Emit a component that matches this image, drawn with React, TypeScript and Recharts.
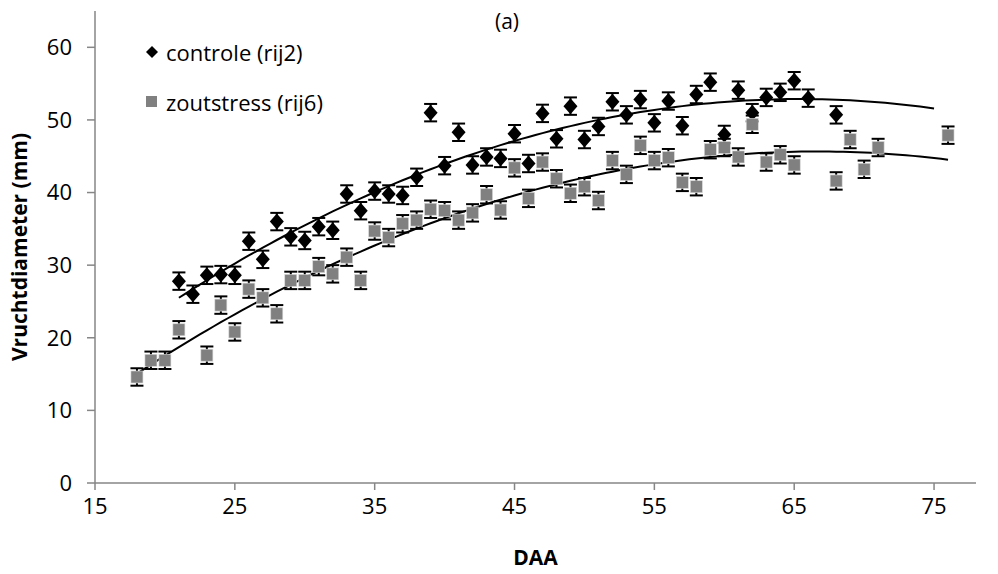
import React from 'react';
import { ComposedChart, Scatter, XAxis, YAxis, ErrorBar } from 'recharts';

// DAA (days after anthesis) and fruit diameter (mm)
const controleDAA = [21, 22, 23, 24, 25, 26, 27, 28, 29, 30, 31, 32, 33, 34, 35, 36, 37, 38, 39, 40, 41, 42, 43, 44, 45, 46, 47, 48, 49, 50, 51, 52, 53, 54, 55, 56, 57, 58, 59, 60, 61, 62, 63, 64, 65, 66, 68];
const controleMM = [27.8, 26, 28.6, 28.7, 28.6, 33.3, 30.8, 36, 33.9, 33.4, 35.3, 34.8, 39.8, 37.5, 40.2, 39.8, 39.6, 42.1, 51, 43.7, 48.3, 43.8, 44.9, 44.7, 48.1, 44, 50.9, 47.4, 51.9, 47.3, 49.1, 52.5, 50.7, 52.8, 49.6, 52.6, 49.2, 53.5, 55.2, 48, 54.1, 51, 53.1, 53.8, 55.4, 53, 50.7];

const zoutDAA = [18, 19, 20, 21, 23, 24, 25, 26, 27, 28, 29, 30, 31, 32, 33, 34, 35, 36, 37, 38, 39, 40, 41, 42, 43, 44, 45, 46, 47, 48, 49, 50, 51, 52, 53, 54, 55, 56, 57, 58, 59, 60, 61, 62, 63, 64, 65, 68, 69, 70, 71, 76];
const zoutMM = [14.6, 16.9, 16.9, 21.1, 17.6, 24.5, 20.8, 26.7, 25.5, 23.3, 27.9, 27.9, 29.8, 28.8, 31.1, 27.9, 34.7, 33.8, 35.7, 36.2, 37.7, 37.5, 36.2, 37.2, 39.7, 37.6, 43.4, 39.2, 44.2, 41.9, 39.9, 40.8, 38.9, 44.4, 42.5, 46.5, 44.4, 44.8, 41.4, 40.8, 45.9, 46.2, 44.9, 49.4, 44.2, 45.2, 43.8, 41.6, 47.3, 43.2, 46.2, 47.9];

const ERR = 1.2;
const xTicks = [15, 25, 35, 45, 55, 65, 75];
const yTicks = [0, 10, 20, 30, 40, 50, 60];

// trendline x-ranges as drawn in the chart
const controleTrendRange = [21, 75];
const zoutTrendRange = [18, 76];

const FONT = '"Open Sans", Lato, sans-serif';

// 2nd order polynomial least squares (like the Excel trendline)
function polyFit(xs: number[], ys: number[]) {
  let s0 = 0, s1 = 0, s2 = 0, s3 = 0, s4 = 0, t0 = 0, t1 = 0, t2 = 0;
  xs.forEach((x, i) => {
    const y = ys[i];
    s0 += 1; s1 += x; s2 += x * x; s3 += x * x * x; s4 += x * x * x * x;
    t0 += y; t1 += x * y; t2 += x * x * y;
  });
  const m = [
    [s0, s1, s2, t0],
    [s1, s2, s3, t1],
    [s2, s3, s4, t2],
  ];
  for (let c = 0; c < 3; c++) {
    for (let r = c + 1; r < 3; r++) {
      const f = m[r][c] / m[c][c];
      for (let k = c; k < 4; k++) m[r][k] -= f * m[c][k];
    }
  }
  const b = [0, 0, 0];
  for (let r = 2; r >= 0; r--) {
    let s = m[r][3];
    for (let k = r + 1; k < 3; k++) s -= m[r][k] * b[k];
    b[r] = s / m[r][r];
  }
  return (x: number) => b[0] + b[1] * x + b[2] * x * x;
}

function trend(xs: number[], ys: number[], range: number[]) {
  const f = polyFit(xs, ys);
  const pts = [];
  for (let x = range[0]; x <= range[1]; x += 0.5) pts.push({ x, y: f(x) });
  return pts;
}

const controleData = controleDAA.map((x, i) => ({ x, y: controleMM[i], err: ERR }));
const zoutData = zoutDAA.map((x, i) => ({ x, y: zoutMM[i], err: ERR }));
const controleTrend = trend(controleDAA, controleMM, controleTrendRange);
const zoutTrend = trend(zoutDAA, zoutMM, zoutTrendRange);

const Diamond = (props: any) => {
  const { cx, cy } = props;
  return <polygon points={`${cx},${cy - 8} ${cx + 7},${cy} ${cx},${cy + 8} ${cx - 7},${cy}`} fill="#000" />;
};

const Square = (props: any) => {
  const { cx, cy } = props;
  return <rect x={cx - 6} y={cy - 6} width={12} height={12} fill="#808080" stroke="#d8d8d8" strokeWidth={0.6} />;
};

const NoDot = () => <g />;

export default function App() {
  return (
    <div style={{ position: 'absolute', left: 0, top: 0, width: 998, height: 574, background: '#fff', fontFamily: FONT }}>
      <ComposedChart width={998} height={574} margin={{ top: 11, right: 22, left: 0, bottom: 0 }}>
        <XAxis
          type="number"
          dataKey="x"
          domain={[15, 78]}
          ticks={xTicks}
          allowDataOverflow
          height={91}
          stroke="#868686"
          strokeWidth={1.5}
          tickSize={7}
          tickMargin={8}
          tick={{ fill: '#000', fontSize: 22, fontFamily: FONT }}
          label={{ value: 'DAA', position: 'insideBottom', offset: 9, fill: '#000', fontSize: 21, fontWeight: 'bold', fontFamily: FONT }}
        />
        <YAxis
          type="number"
          dataKey="y"
          domain={[0, 65]}
          ticks={yTicks}
          allowDataOverflow
          width={95}
          stroke="#868686"
          strokeWidth={1.5}
          tickSize={8}
          tickMargin={15}
          tick={{ fill: '#000', fontSize: 22, fontFamily: FONT }}
          label={{ value: 'Vruchtdiameter (mm)', angle: -90, position: 'insideLeft', offset: 20, fill: '#000', fontSize: 21, fontWeight: 'bold', fontFamily: FONT, style: { textAnchor: 'middle' } }}
        />
        <Scatter data={controleTrend} dataKey="y" line={{ stroke: '#000', strokeWidth: 2 }} shape={NoDot} isAnimationActive={false} legendType="none" />
        <Scatter data={zoutTrend} dataKey="y" line={{ stroke: '#000', strokeWidth: 2 }} shape={NoDot} isAnimationActive={false} legendType="none" />
        <Scatter name="controle (rij2)" data={controleData} dataKey="y" shape={Diamond} isAnimationActive={false}>
          <ErrorBar dataKey="err" direction="y" width={6.5} stroke="#000" strokeWidth={2} />
        </Scatter>
        <Scatter name="zoutstress (rij6)" data={zoutData} dataKey="y" shape={Square} isAnimationActive={false}>
          <ErrorBar dataKey="err" direction="y" width={6.5} stroke="#000" strokeWidth={2} />
        </Scatter>
      </ComposedChart>
      <div style={{ position: 'absolute', left: 477, top: 6, width: 60, textAlign: 'center', fontSize: 21, lineHeight: '30px' }}>(a)</div>
      <div style={{ position: 'absolute', left: 144, top: 36, fontSize: 22 }}>
        <div style={{ display: 'flex', alignItems: 'center', height: 32 }}>
          <svg width={16} height={16} style={{ marginRight: 6 }}>
            <polygon points="8,2 14,8 8,14 2,8" fill="#000" />
          </svg>
          controle (rij2)
        </div>
        <div style={{ display: 'flex', alignItems: 'center', height: 32, marginTop: 18 }}>
          <svg width={16} height={16} style={{ marginRight: 6 }}>
            <rect x={2} y={2} width={11} height={11} fill="#808080" />
          </svg>
          zoutstress (rij6)
        </div>
      </div>
    </div>
  );
}
